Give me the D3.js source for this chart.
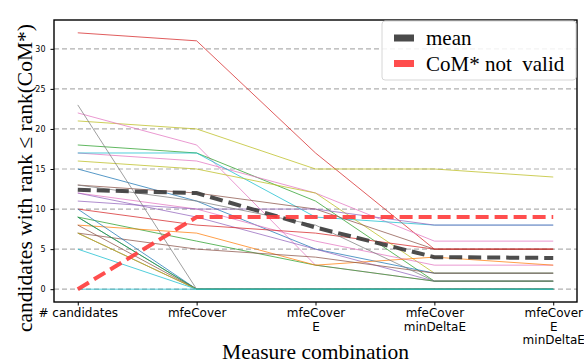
<!DOCTYPE html>
<html>
<head>
<meta charset="utf-8">
<script src="https://cdn.jsdelivr.net/npm/d3@7"></script>
<style>
  body { margin: 0; background: #fff; }
  svg { display: block; }
</style>
</head>
<body>
<div id="chart"></div>
<script>
// x categories (multi-line tick labels)
const categories = [
  ["# candidates"],
  ["mfeCover"],
  ["mfeCover", "E"],
  ["mfeCover", "minDeltaE"],
  ["mfeCover", "E", "minDeltaE"]
];
const yTicks = [0, 5, 10, 15, 20, 25, 30];

// one array per instance, values at each category
const instanceValues = [
  [32, 31, 17, 5, 5],
  [21, 20, 15, 15, 14],
  [22, 18, 3, 1, 1],
  [18, 17, 11, 1, 1],
  [17, 16, 12, 6, 6],
  [17, 17, 9, 8, 8],
  [16, 15, 12, 2, 2],
  [15, 11, 5, 2, 2],
  [13, 12, 10, 5, 5],
  [12, 10, 6, 3, 3],
  [11, 10, 10, 8, 8],
  [12, 9, 5, 1, 1],
  [10, 8, 7, 5, 5],
  [9, 6, 3, 1, 1],
  [8, 7, 3, 4, 3],
  [7, 5, 4, 2, 2],
  [13, 11, 8, 1, 1],
  // instances where CoM* becomes invalid
  [23, 0, 0, 0, 0],
  [10, 0, 0, 0, 0],
  [9, 0, 0, 0, 0],
  [9, 0, 0, 0, 0],
  [8, 0, 0, 0, 0],
  [7, 0, 0, 0, 0],
  [7, 0, 0, 0, 0],
  [5, 0, 0, 0, 0],
  [0, 0, 0, 0, 0]
];
const instanceColors = [
  "#d62728", "#bcbd22", "#e377c2", "#2ca02c", "#e377c2",
  "#17becf", "#bcbd22", "#1f77b4", "#8c564b", "#e377c2",
  "#9467bd", "#9467bd", "#d62728", "#2ca02c", "#ff7f0e",
  "#8c564b", "#7f7f7f",
  "#7f7f7f", "#1f77b4", "#1f77b4", "#2ca02c", "#8c564b",
  "#8c564b", "#bcbd22", "#17becf", "#17becf"
];
const meanValues = [12.4, 12.0, 7.7, 4.0, 3.9];
const notValidValues = [0, 9, 9, 9, 9];

const W = 584, H = 362;
const margin = {left: 54, right: 7, top: 20, bottom: 60};
const innerW = W - margin.left - margin.right;
const innerH = H - margin.top - margin.bottom;

const svg = d3.select("#chart").append("svg")
  .attr("width", W).attr("height", H);

const g = svg.append("g")
  .attr("transform", "translate(" + margin.left + "," + margin.top + ")");

const x = d3.scaleLinear().domain([-0.2, 4.2]).range([0, innerW]);
const y = d3.scaleLinear().domain([-1.6, 33.6]).range([innerH, 0]);

svg.append("defs").append("clipPath").attr("id", "clip")
  .append("rect").attr("width", innerW).attr("height", innerH);

// grid
g.append("g")
  .selectAll("line")
  .data(yTicks)
  .enter().append("line")
  .attr("x1", 0).attr("x2", innerW)
  .attr("y1", d => y(d)).attr("y2", d => y(d))
  .attr("stroke", "#b0b0b0")
  .attr("stroke-width", 1.2)
  .attr("stroke-dasharray", "5,3");

const line = d3.line()
  .x((d, i) => x(i))
  .y(d => y(d));

const plot = g.append("g").attr("clip-path", "url(#clip)");

plot.selectAll("path.inst")
  .data(instanceValues)
  .enter().append("path")
  .attr("class", "inst")
  .attr("d", line)
  .attr("fill", "none")
  .attr("stroke", (d, i) => instanceColors[i])
  .attr("stroke-opacity", 0.75)
  .attr("stroke-width", 1);

plot.append("path")
  .attr("d", line(meanValues))
  .attr("fill", "none")
  .attr("stroke", "#3a3a3a")
  .attr("stroke-opacity", 0.9)
  .attr("stroke-width", 4)
  .attr("stroke-dasharray", "13,6");

plot.append("path")
  .attr("d", line(notValidValues))
  .attr("fill", "none")
  .attr("stroke", "#ff3b3b")
  .attr("stroke-opacity", 0.9)
  .attr("stroke-width", 4)
  .attr("stroke-dasharray", "13,6");

// y axis
const yAxis = g.append("g")
  .call(d3.axisLeft(y).tickValues(yTicks).tickSize(3.5).tickPadding(5));
yAxis.select(".domain").remove();
yAxis.selectAll("text")
  .style("font-family", "DejaVu Sans")
  .style("font-size", "8px")
  .attr("fill", "#000");

// x axis
const xAxis = g.append("g")
  .attr("transform", "translate(0," + innerH + ")")
  .call(d3.axisBottom(x).tickValues(d3.range(categories.length)).tickSize(3.5).tickFormat(""));
xAxis.select(".domain").remove();
xAxis.selectAll(".tick")
  .each(function (d) {
    const t = d3.select(this).append("text")
      .attr("fill", "#000")
      .attr("text-anchor", "middle")
      .style("font-family", "DejaVu Sans")
      .style("font-size", "12px");
    categories[d].forEach((s, k) => {
      t.append("tspan").attr("x", 0).attr("y", 15 + k * 13.6).text(s);
    });
  });

// frame
g.append("rect")
  .attr("width", innerW).attr("height", innerH)
  .attr("fill", "none")
  .attr("stroke", "#000")
  .attr("stroke-width", 1.4);

// axis titles
svg.append("text")
  .attr("transform", "translate(32,178) rotate(-90)")
  .attr("text-anchor", "middle")
  .style("font-family", "Liberation Serif")
  .style("font-size", "21.5px")
  .text("candidates with rank \u2264 rank(CoM*)");

svg.append("text")
  .attr("x", margin.left + innerW / 2)
  .attr("y", 359)
  .attr("text-anchor", "middle")
  .style("font-family", "Liberation Serif")
  .style("font-size", "21.5px")
  .text("Measure combination");

// legend
const legendItems = [
  {label: "mean", color: "#4a4a4a"},
  {label: "CoM* not\u00a0 valid", color: "#ff4d4d"}
];
const legend = svg.append("g").attr("transform", "translate(382,21)");
legend.append("rect")
  .attr("width", 194).attr("height", 59)
  .attr("rx", 3)
  .attr("fill", "#fff").attr("fill-opacity", 0.85)
  .attr("stroke", "#d6d6d6");
const li = legend.selectAll("g.item")
  .data(legendItems)
  .enter().append("g")
  .attr("class", "item")
  .attr("transform", (d, i) => "translate(0," + (17 + i * 25.5) + ")");
li.append("rect")
  .attr("x", 12).attr("y", -3.5)
  .attr("width", 20).attr("height", 7)
  .attr("fill", d => d.color);
li.append("text")
  .attr("x", 44).attr("y", 7)
  .style("font-family", "Liberation Serif")
  .style("font-size", "21px")
  .text(d => d.label);
</script>
</body>
</html>
